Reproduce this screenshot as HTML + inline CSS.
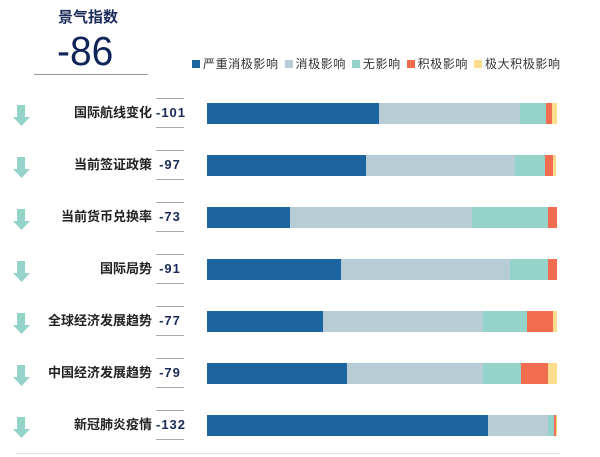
<!DOCTYPE html>
<html><head><meta charset="utf-8"><style>
*{margin:0;padding:0;box-sizing:border-box}
body{width:600px;height:457px;background:#fff;position:relative;overflow:hidden;font-family:"Liberation Sans","Noto Sans CJK SC",sans-serif}
.a{position:absolute}
.lab{position:absolute;right:448px;font-size:13px;font-weight:bold;color:#222;white-space:nowrap;line-height:16px}
.num{position:absolute;left:156px;width:28px;text-align:center;font-size:13px;font-weight:bold;color:#1a2a5a;line-height:16px;letter-spacing:1px}
.ln{position:absolute;left:156px;width:28px;height:1px;background:#aaa}
.bar{position:absolute;left:207px;height:21px;display:flex}
.bar div{height:100%}
.lg{display:inline-block;width:8px;height:8px;margin-right:3px;vertical-align:0}
</style></head><body>
<div class="a" style="left:58px;top:6px;font-size:15px;font-weight:bold;color:#1a2a5a">景气指数</div>
<div class="a" style="left:57px;top:29px;font-size:41px;color:#10245a;line-height:44px;transform:scaleX(0.95);transform-origin:left">-86</div>
<div class="a" style="left:34px;top:74px;width:114px;height:1px;background:#999"></div>
<div class="a" style="left:192px;top:57px;font-size:12px;color:#333;white-space:nowrap;line-height:14px;letter-spacing:0.6px">
<span class="lg" style="background:#1b65a0"></span>严重消极影响 <span class="lg" style="background:#b8ccd6;margin-left:2px"></span>消极影响 <span class="lg" style="background:#93d3c9;margin-left:2px"></span>无影响 <span class="lg" style="background:#f26c4f;margin-left:2px"></span>积极影响 <span class="lg" style="background:#fcdd8c;margin-left:2px"></span>极大积极影响</div>
<div class="a" style="left:16px;top:453px;width:544px;height:1px;background:#e4e4e4"></div>
<div id="rows"></div>
<script>
var d=[["国际航线变化","-101",[379,520,546,552,557]],["当前签证政策","-97",[366,515,545,553,556]],["当前货币兑换率","-73",[290,472,548,557,557]],["国际局势","-91",[341,510,548,557,557]],["全球经济发展趋势","-77",[323,483,527,553,557]],["中国经济发展趋势","-79",[347,483,521,548,557]],["新冠肺炎疫情","-132",[488,548,554,556,557]]];
var c=["#1b65a0","#b8ccd6","#93d3c9","#f26c4f","#fcdd8c"],h="";
d.forEach(function(r,i){var y=113+i*52;
h+='<svg class="a" style="left:13px;top:'+(y-8)+'px" width="17" height="21"><rect x="4" y="0" width="8" height="12" fill="#93d3c9"/><polygon points="0,12 17,12 8.5,21" fill="#93d3c9"/></svg>';
h+='<div class="lab" style="top:'+(y-8)+'px">'+r[0]+'</div>';
h+='<div class="num" style="top:'+(y-8)+'px">'+r[1]+'</div>';
h+='<div class="ln" style="top:'+(y-15)+'px"></div><div class="ln" style="top:'+(y+14)+'px"></div>';
h+='<div class="bar" style="top:'+(y-10)+'px">';var p=207;r[2].forEach(function(e,j){h+='<div style="width:'+(e-p)+'px;background:'+c[j]+'"></div>';p=e;});h+='</div>';});
document.getElementById("rows").innerHTML=h;
</script>
</body></html>
